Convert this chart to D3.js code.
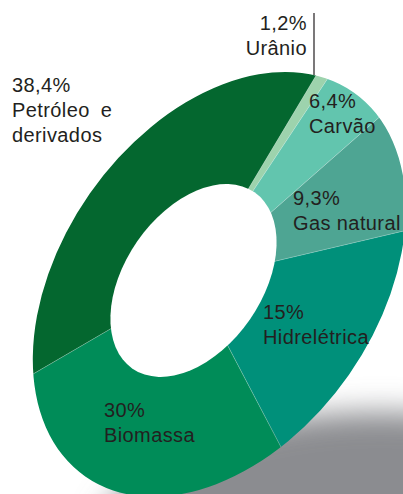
<!DOCTYPE html>
<html>
<head>
<meta charset="utf-8">
<script src="https://cdn.jsdelivr.net/npm/d3@7"></script>
<style>
  body { margin: 0; background: #fff; }
  text { font-family: "Liberation Sans", Arial, sans-serif; font-size: 20px; fill: #231f20; }
</style>
</head>
<body>
<svg id="chart" width="403" height="494"></svg>
<script>
// data, in the order the slices go round (clockwise)
const sources = ["Urânio", "Carvão", "Gas natural", "Hidrelétrica", "Biomassa", "Petróleo e derivados"];
const shares = [1.2, 6.4, 9.3, 15, 30, 38.4];
const shareLabels = ["1,2%", "6,4%", "9,3%", "15%", "30%", "38,4%"];
const nameLines = [["Urânio"], ["Carvão"], ["Gas natural"], ["Hidrelétrica"], ["Biomassa"], ["Petróleo e", "derivados"]];
const colors = ["#9dd3ad", "#62c5ae", "#4ea593", "#00907a", "#008c58", "#04672f"];

function draw() {
  const svg = d3.select("#chart");
  const cx = 193.5, cy = 280.5;        // point the slices radiate from
  const tilt = -55.3, stretch = 1.563; // squash of the ring
  const holeR = 68.6;

  const defs = svg.append("defs");
  defs.append("filter").attr("id", "soft")
    .attr("x", "-50%").attr("y", "-50%").attr("width", "200%").attr("height", "200%")
    .append("feGaussianBlur").attr("stdDeviation", 15);
  defs.append("clipPath").attr("id", "rim")
    .append("ellipse")
    .attr("cx", 219.3).attr("cy", 284.3).attr("rx", 234.3).attr("ry", 158.1)
    .attr("transform", "rotate(-55.1,219.3,284.3)");

  // shadow under the ring
  svg.append("ellipse")
    .attr("cx", 380).attr("cy", 552).attr("rx", 285).attr("ry", 140)
    .attr("fill", "#8b8c90")
    .attr("filter", "url(#soft)");

  const pie = d3.pie().sort(null).value(d => d)
    .startAngle(84 * Math.PI / 180)
    .endAngle(444 * Math.PI / 180);
  const arc = d3.arc().innerRadius(0).outerRadius(420);

  const ring = svg.append("g").attr("clip-path", "url(#rim)")
    .append("g")
    .attr("transform", `translate(${cx},${cy}) rotate(${tilt}) scale(${stretch},1)`);

  ring.selectAll("path")
    .data(pie(shares))
    .join("path")
    .attr("d", arc)
    .attr("fill", (d, i) => colors[i])
    .attr("stroke", "rgba(255,255,255,0.3)")
    .attr("stroke-width", 0.6)
    .attr("vector-effect", "non-scaling-stroke");

  ring.append("circle").attr("r", holeR).attr("fill", "#fff");

  // labels: [x, y of first baseline, anchor]
  const labelPos = [[307, 30, "end"], [309, 108, "start"], [293, 205, "start"],
                    [263, 319, "start"], [104, 417, "start"], [12, 92, "start"]];
  const lineGap = 25;

  sources.forEach((s, i) => {
    const [x, y, anchor] = labelPos[i];
    const t = svg.append("text")
      .attr("x", x).attr("y", y)
      .attr("text-anchor", anchor)
      .attr("letter-spacing", 0.4);
    [shareLabels[i]].concat(nameLines[i]).forEach((line, k) => {
      t.append("tspan").attr("x", x).attr("y", y + k * lineGap)
        .attr("word-spacing", line === "Petróleo e" ? 5 : 0)
        .text(line);
    });
  });

  // leader line for Urânio
  svg.append("line")
    .attr("x1", 314).attr("x2", 314).attr("y1", 13).attr("y2", 75)
    .attr("stroke", "#231f20").attr("stroke-width", 1.2);
}

window.onload = draw;
</script>
</body>
</html>
